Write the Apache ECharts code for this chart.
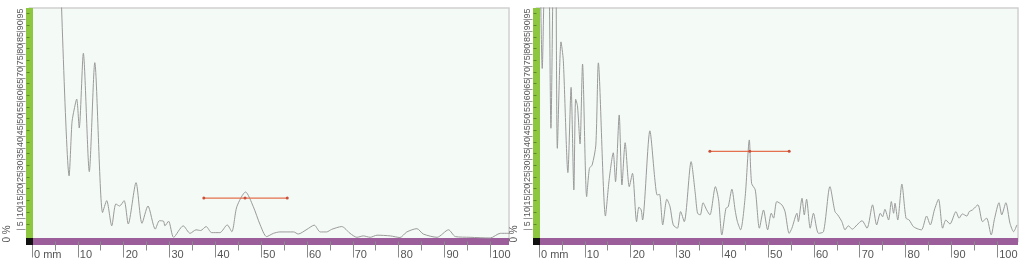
<!DOCTYPE html>
<html>
<head>
<meta charset="utf-8">
<script src="https://cdn.jsdelivr.net/npm/echarts@6.0.0/dist/echarts.min.js"></script>
<style>
html,body{margin:0;padding:0;background:#fff;}
#chart{width:1024px;height:262px;}
</style>
</head>
<body>
<div id="chart"></div>
<script>
// ---- data (mm, %) ----
const leftMm = [6.0,8.1,8.7,9.0,9.75,10.3,11.2,12.5,13.7,15.4,16.3,17.4,18.3,19.1,20.1,21.0,22.7,24.0,25.3,26.9,27.8,28.7,29.0,29.8,30.9,33.0,34.5,35.8,36.8,38.0,39.2,41.0,42.6,43.6,44.7,46.6,48.3,49.8,51.2,52.7,54.1,57.1,58.1,60.0,61.6,62.9,64.3,65.4,67.6,69.4,70.9,72.3,73.8,75.3,78.2,80.3,81.8,84.0,85.4,88.4,90.9,92.4,95.6,100,102.2,104.4];
const leftPct = [125,25.5,48,52,58.4,46,78,27.3,74,9.8,14.9,4.1,13.5,12.6,14.9,4.9,22.6,5.2,12.6,2.7,6.3,6.1,4.1,6.1,-0.8,4.1,0.9,2.4,2.1,3.8,1.2,1.2,4.5,1.6,12.3,18.6,12.3,4.5,-0.5,0.9,1.5,1.5,0.6,2.6,4.4,1.5,1.5,2.6,3.8,0.9,-0.8,-0.2,-0.8,0.1,-0.2,-0.9,1.5,2.9,0.6,-0.8,2.4,-0.5,-0.8,-1.1,0.9,0.9];

const rightMm = [0.2,0.7,1.5,2.0,2.6,3.3,3.6,4.0,4.8,5.3,6.3,7.0,7.6,8.0,8.4,8.95,9.5,10.4,11.0,11.6,12.4,12.95,14.5,15.3,16.2,16.7,17.5,18.1,18.8,19.7,20.4,21.3,21.8,22.3,22.6,24.2,25.3,25.8,26.3,27.0,27.9,28.6,29.3,30.2,30.9,31.7,33.2,34.1,34.6,35.2,35.8,36.6,37.3,38.5,39.2,39.9,40.8,41.3,42.1,42.8,43.3,44.0,45.0,45.9,46.4,47.2,48.1,49.0,49.9,50.7,51.2,51.9,53.0,53.7,54.6,55.2,56.3,56.6,57.4,57.9,58.4,59.2,59.9,61.0,62.1,63.5,64.6,65.2,66.1,66.8,67.5,68.4,69.4,70.5,71.6,72.8,73.7,74.5,75.0,75.5,76.3,76.9,77.4,77.7,78.3,79.2,80.1,80.8,81.7,82.8,83.5,84.6,85.4,86.3,87.2,88.1,88.8,89.7,91.0,91.7,92.4,93.4,93.9,94.6,95.8,96.8,97.7,98.7,99.4,100.4,101.0,101.9,102.8,103.6,104.3];
const rightPct = [125,71.5,130,130,45.9,130,130,37.3,82.9,75,26.9,63.4,19.5,58.3,55.4,39.2,73.4,16.6,28.7,30.2,38.7,73.9,8.3,23.7,35.4,23,51.6,21.6,39.7,20.9,26.6,5.9,12.1,10.9,6.6,44.8,23.7,17.3,17.6,4.5,15.5,12.3,4.5,3.1,10.2,5.9,31.6,18.1,9.5,8.8,14.0,10.9,8.8,20.9,15.2,0.2,11.6,12.3,19.8,10.9,5.9,2.4,16.6,40.9,22.3,19.5,3.1,10.9,2.4,9.5,7.4,14.5,13.1,10.2,0.9,3.1,9.5,5.9,15.9,8.8,15.5,3.1,9.5,0.9,1.6,20.9,10.2,8.8,5.9,2.4,4.1,2.7,4.5,6.3,3.1,13.1,4.5,9.5,8.0,11.2,6.6,14.5,9.5,13.8,6.6,22.0,7.4,6.6,3.8,2.7,2.4,8.3,4.5,10.9,15.5,3.1,6.6,4.9,10.2,7.4,9.2,8.3,10.2,10.9,13.1,5.9,7.4,0.2,6.9,14.0,8.8,14.0,5.2,1.6,4.5];

// reference (red) segments: start mm, centre mm, end mm, level %
const leftRef = [37.5, 46.5, 55.7, 16];
const rightRef = [37.3, 46.0, 54.6, 36];

// tick labels
const xTickValues = [0,10,20,30,40,50,60,70,80,90,100];
const xMinorValues = [5,15,25,35,45,55,65,75,85,95];
const yTickValues = [5,10,15,20,25,30,35,40,45,50,55,60,65,70,75,80,85,90,95];
const ySepValues = [2.5,7.5,12.5,17.5,22.5,27.5,32.5,37.5,42.5,47.5,52.5,57.5,62.5,67.5,72.5,77.5,82.5,87.5,92.5,97.5];

const GREEN = '#8dc63f', PURPLE = '#9b5e9b', BG = '#f4faf6', CURVE = '#9a9a9a', RED = '#e4704f';
const FONT = 'Liberation Sans, Arial, sans-serif';

function zip(a, b){ return a.map((v,i)=>[v,b[i]]); }

const panels = [
  {left: 29.5, width: 479.5, xmax: 104.1, mm: leftMm, pct: leftPct, ref: leftRef},
  {left: 536.5, width: 481.5, xmax: 104.55, mm: rightMm, pct: rightPct, ref: rightRef}
];

const grid = [], xAxis = [], yAxis = [], series = [];
panels.forEach((p, i) => {
  grid.push({left: p.left, top: 8, width: p.width, height: 233.5, show: true,
    backgroundColor: BG, borderColor: '#cfcfcf', borderWidth: 1.5, containLabel: false});
  // main x axis (purple bar + major ticks + labels)
  xAxis.push({type: 'value', gridIndex: i, min: -0.55, max: p.xmax, position: 'bottom',
    axisLine: {show: true, onZero: false, lineStyle: {color: PURPLE, width: 7, cap: 'butt'}},
    axisTick: {show: true, customValues: xTickValues, length: 16, lineStyle: {color: '#8a8a8a', width: 1}},
    axisLabel: {show: true, customValues: xTickValues, margin: 8, align: 'left', padding: [0,0,0,2],
      color: '#555', fontSize: 11, fontFamily: FONT,
      formatter: v => v === 0 ? '0 mm' : String(v)},
    splitLine: {show: false}});
  // minor x ticks
  xAxis.push({type: 'value', gridIndex: i, min: -0.55, max: p.xmax, position: 'bottom',
    axisLine: {show: false, onZero: false},
    axisTick: {show: true, customValues: xMinorValues, length: 9, lineStyle: {color: '#8a8a8a', width: 1}},
    axisLabel: {show: false}, splitLine: {show: false}});
  // main y axis (green bar + labels)
  yAxis.push({type: 'value', gridIndex: i, min: -2.6, max: 97.4, position: 'left',
    axisLine: {show: true, onZero: false, lineStyle: {color: GREEN, width: 7, cap: 'butt'}},
    axisTick: {show: true, customValues: yTickValues, length: 3, lineStyle: {color: '#5d8a24', width: 1}},
    axisLabel: {show: true, customValues: yTickValues, rotate: 90, margin: 4,
      color: '#555', fontSize: 9, fontFamily: FONT},
    splitLine: {show: false}});
  // separators between y labels
  yAxis.push({type: 'value', gridIndex: i, min: -2.6, max: 97.4, position: 'left', offset: 4,
    axisLine: {show: false, onZero: false},
    axisTick: {show: true, customValues: ySepValues, length: 9, lineStyle: {color: '#9a9a9a', width: 1}},
    axisLabel: {show: false}, splitLine: {show: false}});

  series.push({type: 'line', xAxisIndex: i*2, yAxisIndex: i*2, data: zip(p.mm, p.pct),
    smooth: 0.25, showSymbol: false, clip: true,
    lineStyle: {color: CURVE, width: 1}, z: 3});
  series.push({type: 'line', xAxisIndex: i*2, yAxisIndex: i*2,
    data: [[p.ref[0], p.ref[3]], [p.ref[1], p.ref[3]], [p.ref[2], p.ref[3]]],
    symbol: 'circle', symbolSize: 3, showSymbol: true,
    itemStyle: {color: '#c8503a'}, lineStyle: {color: RED, width: 1.3}, z: 4});
});

const chart = echarts.init(document.getElementById('chart'), null, {renderer: 'canvas'});
chart.setOption({
  animation: false,
  backgroundColor: '#ffffff',
  grid, xAxis, yAxis, series,
  graphic: [
    {type: 'rect', shape: {x: 26, y: 238, width: 7, height: 7}, style: {fill: '#111'}, z: 100},
    {type: 'rect', shape: {x: 533, y: 238, width: 7, height: 7}, style: {fill: '#111'}, z: 100},
    {type: 'text', x: 7, y: 234, rotation: Math.PI/2, style: {text: '0 %', fill: '#555', fontSize: 10,
      fontFamily: FONT, align: 'center', verticalAlign: 'middle'}},
    {type: 'text', x: 514, y: 234, rotation: Math.PI/2, style: {text: '0 %', fill: '#555', fontSize: 10,
      fontFamily: FONT, align: 'center', verticalAlign: 'middle'}}
  ]
});
</script>
</body>
</html>
